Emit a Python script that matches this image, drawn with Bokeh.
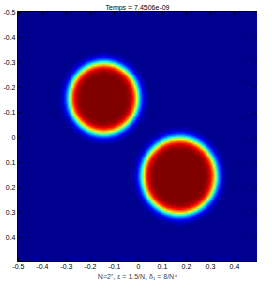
import numpy as np
from bokeh.plotting import figure
from bokeh.models import Range1d, LinearColorMapper, LinearAxis, FixedTicker
from bokeh.embed import file_html
from bokeh.resources import INLINE

# --- data ---
N = 128
centers_x = [-0.145, 0.17]
centers_y = [-0.157, 0.155]
radii = [0.142, 0.153]
interface_width = 0.022
title_text = "Temps = 7.4506e-09"
xlabel_text = "N=2\u2077, \u03b5 = 1.5/N, \u03b4\u2081 = 8/N\u2074"
tick_values = [-0.5, -0.4, -0.3, -0.2, -0.1, 0.0, 0.1, 0.2, 0.3, 0.4]
tick_labels = ["-0.5", "-0.4", "-0.3", "-0.2", "-0.1", "0", "0.1", "0.2", "0.3", "0.4"]

h = 1.0 / N
grid = -0.5 + np.arange(N) * h
X, Y = np.meshgrid(grid, grid)  # rows follow y
field = np.zeros_like(X)
for cx, cy, r in zip(centers_x, centers_y, radii):
    d = np.sqrt((X - cx) ** 2 + (Y - cy) ** 2) - r
    field = np.maximum(field, 0.5 * (1 - np.tanh(d / interface_width)))

# MATLAB jet(64)
def jet(n=64):
    m = int(np.ceil(n / 4))
    u = np.concatenate([np.arange(1, m + 1) / m, np.ones(m - 1), np.arange(m, 0, -1) / m])
    g = int(np.ceil(m / 2)) - (1 if n % 4 == 1 else 0) + np.arange(1, len(u) + 1)
    r = g + m
    b = g - m
    J = np.zeros((n, 3))
    J[r[r <= n] - 1, 0] = u[r <= n]
    J[g[g <= n] - 1, 1] = u[g <= n]
    J[b[b >= 1] - 1, 2] = u[b >= 1]
    return ["#%02x%02x%02x" % tuple(int(round(c * 255)) for c in row) for row in J]

palette = jet(64)
mapper = LinearColorMapper(palette=palette, low=float(field.min()), high=float(field.max()))

x0 = -0.5 - h / 2
x1 = 0.5 - h / 2

FONT = "Liberation Sans"
FS = "7px"

p = figure(frame_width=240, frame_height=250, output_backend="svg", toolbar_location=None,
           x_range=Range1d(x0, x1), y_range=Range1d(x1, x0),
           min_border_left=0, min_border_right=0, min_border_top=0, min_border_bottom=0)
p.image(image=[field], x=x0, y=x0, dw=1.0, dh=1.0, color_mapper=mapper)

p.title.text = title_text
p.title.align = "center"
p.title.text_font = FONT
p.title.text_font_size = FS
p.title.text_font_style = "normal"
p.title.text_color = "black"
p.title.standoff = 2

p.grid.visible = False
p.outline_line_color = "black"
p.outline_line_width = 1

overrides = dict(zip(tick_values, tick_labels))
for ax in [p.xaxis[0], p.yaxis[0]]:
    ax.ticker = FixedTicker(ticks=tick_values)
    ax.major_label_overrides = overrides
    ax.major_tick_in = 3
    ax.major_tick_out = 0
    ax.minor_tick_line_color = None
    ax.major_label_text_font = FONT
    ax.major_label_text_font_size = FS
    ax.major_label_text_color = "black"
    ax.major_label_standoff = 2
    ax.axis_line_color = "black"
    ax.major_tick_line_color = "black"

p.xaxis[0].axis_label = xlabel_text
p.xaxis[0].axis_label_text_font = FONT
p.xaxis[0].axis_label_text_font_size = FS
p.xaxis[0].axis_label_text_font_style = "normal"
p.xaxis[0].axis_label_standoff = 1

for loc in ["above", "right"]:
    ax = LinearAxis(ticker=FixedTicker(ticks=tick_values))
    ax.major_tick_in = 3
    ax.major_tick_out = 0
    ax.minor_tick_line_color = None
    ax.major_label_text_font_size = "1px"
    ax.major_label_text_color = None
    ax.major_label_standoff = 0
    ax.major_tick_line_color = "black"
    ax.axis_line_color = "black"
    p.add_layout(ax, loc)

open("out.html", "w").write(file_html(p, INLINE))
